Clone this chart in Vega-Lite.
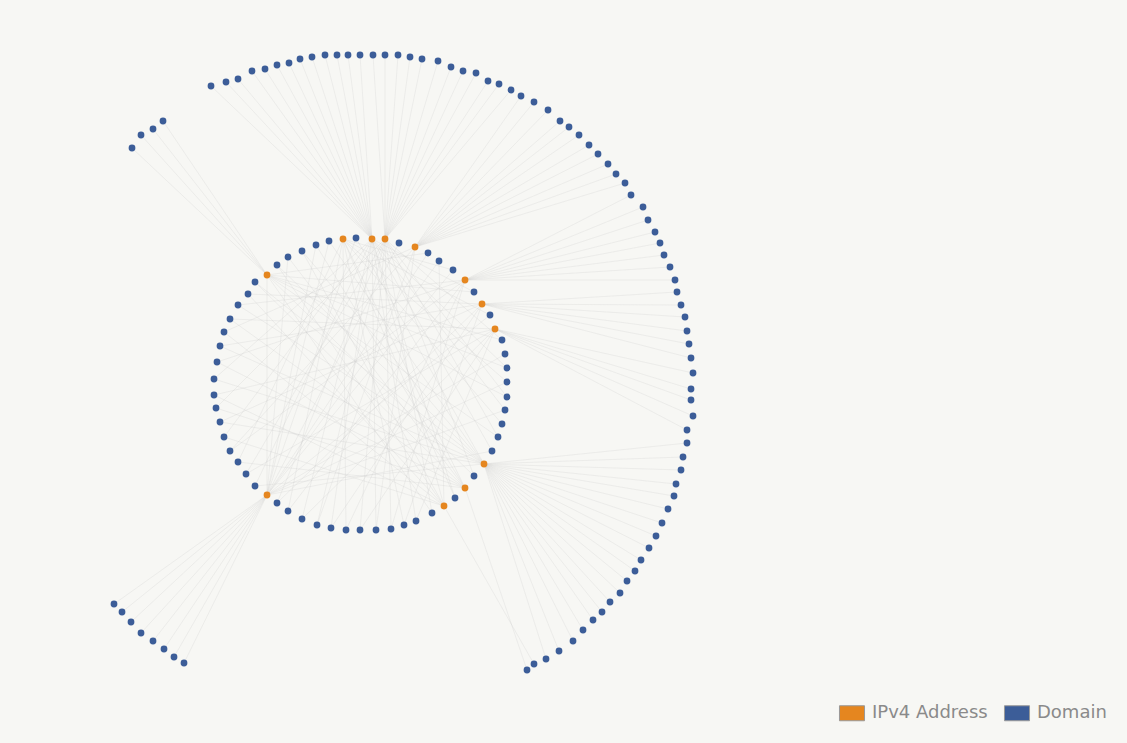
{
  "$schema": "https://vega.github.io/schema/vega-lite/v6.json",
  "autosize": {"type": "fit", "contains": "padding"},
  "width": 1127,
  "height": 743,
  "padding": 0,
  "background": "#f7f7f4",
  "config": {"view": {"stroke": null}},
  "datasets": {
    "nodes": [
      {"id": "i0", "x": -4, "y": 146, "type": "Domain"},
      {"id": "i1", "x": 12, "y": 145, "type": "IPv4 Address"},
      {"id": "i2", "x": 25, "y": 145, "type": "IPv4 Address"},
      {"id": "i3", "x": 39, "y": 141, "type": "Domain"},
      {"id": "i4", "x": 55, "y": 137, "type": "IPv4 Address"},
      {"id": "i5", "x": 68, "y": 131, "type": "Domain"},
      {"id": "i6", "x": 79, "y": 123, "type": "Domain"},
      {"id": "i7", "x": 93, "y": 114, "type": "Domain"},
      {"id": "i8", "x": 105, "y": 104, "type": "IPv4 Address"},
      {"id": "i9", "x": 114, "y": 92, "type": "Domain"},
      {"id": "i10", "x": 122, "y": 80, "type": "IPv4 Address"},
      {"id": "i11", "x": 130, "y": 69, "type": "Domain"},
      {"id": "i12", "x": 135, "y": 55, "type": "IPv4 Address"},
      {"id": "i13", "x": 142, "y": 44, "type": "Domain"},
      {"id": "i14", "x": 145, "y": 30, "type": "Domain"},
      {"id": "i15", "x": 147, "y": 16, "type": "Domain"},
      {"id": "i16", "x": 147, "y": 2, "type": "Domain"},
      {"id": "i17", "x": 147, "y": -13, "type": "Domain"},
      {"id": "i18", "x": 145, "y": -26, "type": "Domain"},
      {"id": "i19", "x": 142, "y": -40, "type": "Domain"},
      {"id": "i20", "x": 138, "y": -53, "type": "Domain"},
      {"id": "i21", "x": 132, "y": -67, "type": "Domain"},
      {"id": "i22", "x": 124, "y": -80, "type": "IPv4 Address"},
      {"id": "i23", "x": 114, "y": -92, "type": "Domain"},
      {"id": "i24", "x": 105, "y": -104, "type": "IPv4 Address"},
      {"id": "i25", "x": 95, "y": -114, "type": "Domain"},
      {"id": "i26", "x": 84, "y": -122, "type": "IPv4 Address"},
      {"id": "i27", "x": 72, "y": -129, "type": "Domain"},
      {"id": "i28", "x": 56, "y": -137, "type": "Domain"},
      {"id": "i29", "x": 44, "y": -141, "type": "Domain"},
      {"id": "i30", "x": 31, "y": -145, "type": "Domain"},
      {"id": "i31", "x": 16, "y": -146, "type": "Domain"},
      {"id": "i32", "x": 0, "y": -146, "type": "Domain"},
      {"id": "i33", "x": -14, "y": -146, "type": "Domain"},
      {"id": "i34", "x": -29, "y": -144, "type": "Domain"},
      {"id": "i35", "x": -43, "y": -141, "type": "Domain"},
      {"id": "i36", "x": -58, "y": -135, "type": "Domain"},
      {"id": "i37", "x": -72, "y": -127, "type": "Domain"},
      {"id": "i38", "x": -83, "y": -119, "type": "Domain"},
      {"id": "i39", "x": -93, "y": -111, "type": "IPv4 Address"},
      {"id": "i40", "x": -105, "y": -102, "type": "Domain"},
      {"id": "i41", "x": -114, "y": -90, "type": "Domain"},
      {"id": "i42", "x": -122, "y": -78, "type": "Domain"},
      {"id": "i43", "x": -130, "y": -67, "type": "Domain"},
      {"id": "i44", "x": -136, "y": -53, "type": "Domain"},
      {"id": "i45", "x": -140, "y": -38, "type": "Domain"},
      {"id": "i46", "x": -144, "y": -24, "type": "Domain"},
      {"id": "i47", "x": -146, "y": -11, "type": "Domain"},
      {"id": "i48", "x": -146, "y": 5, "type": "Domain"},
      {"id": "i49", "x": -143, "y": 22, "type": "Domain"},
      {"id": "i50", "x": -140, "y": 38, "type": "Domain"},
      {"id": "i51", "x": -136, "y": 52, "type": "Domain"},
      {"id": "i52", "x": -130, "y": 65, "type": "Domain"},
      {"id": "i53", "x": -122, "y": 79, "type": "Domain"},
      {"id": "i54", "x": -112, "y": 90, "type": "Domain"},
      {"id": "i55", "x": -105, "y": 102, "type": "Domain"},
      {"id": "i56", "x": -93, "y": 109, "type": "IPv4 Address"},
      {"id": "i57", "x": -83, "y": 119, "type": "Domain"},
      {"id": "i58", "x": -72, "y": 127, "type": "Domain"},
      {"id": "i59", "x": -58, "y": 133, "type": "Domain"},
      {"id": "i60", "x": -44, "y": 139, "type": "Domain"},
      {"id": "i61", "x": -31, "y": 143, "type": "Domain"},
      {"id": "i62", "x": -17, "y": 145, "type": "IPv4 Address"},
      {"id": "o0", "x": -228, "y": 236, "type": "Domain"},
      {"id": "o1", "x": -219, "y": 249, "type": "Domain"},
      {"id": "o2", "x": -207, "y": 255, "type": "Domain"},
      {"id": "o3", "x": -197, "y": 263, "type": "Domain"},
      {"id": "o4", "x": -149, "y": 298, "type": "Domain"},
      {"id": "o5", "x": -134, "y": 302, "type": "Domain"},
      {"id": "o6", "x": -122, "y": 305, "type": "Domain"},
      {"id": "o7", "x": -108, "y": 313, "type": "Domain"},
      {"id": "o8", "x": -95, "y": 315, "type": "Domain"},
      {"id": "o9", "x": -83, "y": 319, "type": "Domain"},
      {"id": "o10", "x": -71, "y": 321, "type": "Domain"},
      {"id": "o11", "x": -60, "y": 325, "type": "Domain"},
      {"id": "o12", "x": -48, "y": 327, "type": "Domain"},
      {"id": "o13", "x": -35, "y": 329, "type": "Domain"},
      {"id": "o14", "x": -23, "y": 329, "type": "Domain"},
      {"id": "o15", "x": -12, "y": 329, "type": "Domain"},
      {"id": "o16", "x": 0, "y": 329, "type": "Domain"},
      {"id": "o17", "x": 13, "y": 329, "type": "Domain"},
      {"id": "o18", "x": 25, "y": 329, "type": "Domain"},
      {"id": "o19", "x": 38, "y": 329, "type": "Domain"},
      {"id": "o20", "x": 50, "y": 327, "type": "Domain"},
      {"id": "o21", "x": 62, "y": 325, "type": "Domain"},
      {"id": "o22", "x": 78, "y": 323, "type": "Domain"},
      {"id": "o23", "x": 91, "y": 317, "type": "Domain"},
      {"id": "o24", "x": 103, "y": 313, "type": "Domain"},
      {"id": "o25", "x": 116, "y": 311, "type": "Domain"},
      {"id": "o26", "x": 128, "y": 303, "type": "Domain"},
      {"id": "o27", "x": 139, "y": 300, "type": "Domain"},
      {"id": "o28", "x": 151, "y": 294, "type": "Domain"},
      {"id": "o29", "x": 161, "y": 288, "type": "Domain"},
      {"id": "o30", "x": 174, "y": 282, "type": "Domain"},
      {"id": "o31", "x": 188, "y": 274, "type": "Domain"},
      {"id": "o32", "x": 200, "y": 263, "type": "Domain"},
      {"id": "o33", "x": 209, "y": 257, "type": "Domain"},
      {"id": "o34", "x": 219, "y": 249, "type": "Domain"},
      {"id": "o35", "x": 229, "y": 239, "type": "Domain"},
      {"id": "o36", "x": 238, "y": 230, "type": "Domain"},
      {"id": "o37", "x": 248, "y": 220, "type": "Domain"},
      {"id": "o38", "x": 256, "y": 210, "type": "Domain"},
      {"id": "o39", "x": 265, "y": 201, "type": "Domain"},
      {"id": "o40", "x": 271, "y": 189, "type": "Domain"},
      {"id": "o41", "x": 283, "y": 177, "type": "Domain"},
      {"id": "o42", "x": 288, "y": 164, "type": "Domain"},
      {"id": "o43", "x": 295, "y": 152, "type": "Domain"},
      {"id": "o44", "x": 300, "y": 141, "type": "Domain"},
      {"id": "o45", "x": 304, "y": 129, "type": "Domain"},
      {"id": "o46", "x": 310, "y": 117, "type": "Domain"},
      {"id": "o47", "x": 315, "y": 104, "type": "Domain"},
      {"id": "o48", "x": 317, "y": 92, "type": "Domain"},
      {"id": "o49", "x": 321, "y": 79, "type": "Domain"},
      {"id": "o50", "x": 325, "y": 67, "type": "Domain"},
      {"id": "o51", "x": 327, "y": 53, "type": "Domain"},
      {"id": "o52", "x": 329, "y": 40, "type": "Domain"},
      {"id": "o53", "x": 331, "y": 26, "type": "Domain"},
      {"id": "o54", "x": 333, "y": 11, "type": "Domain"},
      {"id": "o55", "x": 331, "y": -5, "type": "Domain"},
      {"id": "o56", "x": 331, "y": -16, "type": "Domain"},
      {"id": "o57", "x": 333, "y": -32, "type": "Domain"},
      {"id": "o58", "x": 327, "y": -46, "type": "Domain"},
      {"id": "o59", "x": 327, "y": -59, "type": "Domain"},
      {"id": "o60", "x": 323, "y": -73, "type": "Domain"},
      {"id": "o61", "x": 321, "y": -86, "type": "Domain"},
      {"id": "o62", "x": 316, "y": -100, "type": "Domain"},
      {"id": "o63", "x": 314, "y": -112, "type": "Domain"},
      {"id": "o64", "x": 308, "y": -125, "type": "Domain"},
      {"id": "o65", "x": 302, "y": -139, "type": "Domain"},
      {"id": "o66", "x": 296, "y": -152, "type": "Domain"},
      {"id": "o67", "x": 289, "y": -164, "type": "Domain"},
      {"id": "o68", "x": 281, "y": -176, "type": "Domain"},
      {"id": "o69", "x": 275, "y": -187, "type": "Domain"},
      {"id": "o70", "x": 267, "y": -197, "type": "Domain"},
      {"id": "o71", "x": 260, "y": -209, "type": "Domain"},
      {"id": "o72", "x": 250, "y": -218, "type": "Domain"},
      {"id": "o73", "x": 242, "y": -228, "type": "Domain"},
      {"id": "o74", "x": 233, "y": -236, "type": "Domain"},
      {"id": "o75", "x": 223, "y": -246, "type": "Domain"},
      {"id": "o76", "x": 213, "y": -257, "type": "Domain"},
      {"id": "o77", "x": 199, "y": -267, "type": "Domain"},
      {"id": "o78", "x": 186, "y": -275, "type": "Domain"},
      {"id": "o79", "x": 174, "y": -280, "type": "Domain"},
      {"id": "o80", "x": 167, "y": -286, "type": "Domain"},
      {"id": "o81", "x": -246, "y": -220, "type": "Domain"},
      {"id": "o82", "x": -238, "y": -228, "type": "Domain"},
      {"id": "o83", "x": -229, "y": -238, "type": "Domain"},
      {"id": "o84", "x": -219, "y": -249, "type": "Domain"},
      {"id": "o85", "x": -207, "y": -257, "type": "Domain"},
      {"id": "o86", "x": -196, "y": -265, "type": "Domain"},
      {"id": "o87", "x": -186, "y": -273, "type": "Domain"},
      {"id": "o88", "x": -176, "y": -279, "type": "Domain"}
    ],
    "edges": [
      {"s": "o0", "t": "i56"}, {"s": "o1", "t": "i56"}, {"s": "o2", "t": "i56"}, {"s": "o3", "t": "i56"},
      {"s": "o4", "t": "i1"}, {"s": "o5", "t": "i1"}, {"s": "o6", "t": "i1"}, {"s": "o7", "t": "i1"},
      {"s": "o8", "t": "i1"}, {"s": "o9", "t": "i1"}, {"s": "o10", "t": "i1"}, {"s": "o11", "t": "i1"},
      {"s": "o12", "t": "i1"}, {"s": "o13", "t": "i1"}, {"s": "o14", "t": "i1"}, {"s": "o15", "t": "i1"},
      {"s": "o16", "t": "i1"}, {"s": "o17", "t": "i2"}, {"s": "o18", "t": "i2"}, {"s": "o19", "t": "i2"},
      {"s": "o20", "t": "i2"}, {"s": "o21", "t": "i2"}, {"s": "o22", "t": "i2"}, {"s": "o23", "t": "i2"},
      {"s": "o24", "t": "i2"}, {"s": "o25", "t": "i2"}, {"s": "o26", "t": "i2"}, {"s": "o27", "t": "i2"},
      {"s": "o28", "t": "i2"}, {"s": "o29", "t": "i4"}, {"s": "o30", "t": "i4"}, {"s": "o31", "t": "i4"},
      {"s": "o32", "t": "i4"}, {"s": "o33", "t": "i4"}, {"s": "o34", "t": "i4"}, {"s": "o35", "t": "i4"},
      {"s": "o36", "t": "i4"}, {"s": "o37", "t": "i4"}, {"s": "o38", "t": "i4"}, {"s": "o39", "t": "i4"},
      {"s": "o40", "t": "i8"}, {"s": "o41", "t": "i8"}, {"s": "o42", "t": "i8"}, {"s": "o43", "t": "i8"},
      {"s": "o44", "t": "i8"}, {"s": "o45", "t": "i8"}, {"s": "o46", "t": "i8"}, {"s": "o47", "t": "i8"},
      {"s": "o48", "t": "i10"}, {"s": "o49", "t": "i10"}, {"s": "o50", "t": "i10"}, {"s": "o51", "t": "i10"},
      {"s": "o52", "t": "i10"}, {"s": "o53", "t": "i10"}, {"s": "o54", "t": "i12"}, {"s": "o55", "t": "i12"},
      {"s": "o56", "t": "i12"}, {"s": "o57", "t": "i12"}, {"s": "o58", "t": "i12"},
      {"s": "o59", "t": "i22"}, {"s": "o60", "t": "i22"}, {"s": "o61", "t": "i22"}, {"s": "o62", "t": "i22"},
      {"s": "o63", "t": "i22"}, {"s": "o64", "t": "i22"}, {"s": "o65", "t": "i22"}, {"s": "o66", "t": "i22"},
      {"s": "o67", "t": "i22"}, {"s": "o68", "t": "i22"}, {"s": "o69", "t": "i22"}, {"s": "o70", "t": "i22"},
      {"s": "o71", "t": "i22"}, {"s": "o72", "t": "i22"}, {"s": "o73", "t": "i22"}, {"s": "o74", "t": "i22"},
      {"s": "o75", "t": "i22"}, {"s": "o76", "t": "i22"}, {"s": "o77", "t": "i22"}, {"s": "o78", "t": "i22"},
      {"s": "o79", "t": "i26"}, {"s": "o80", "t": "i24"},
      {"s": "o81", "t": "i39"}, {"s": "o82", "t": "i39"}, {"s": "o83", "t": "i39"}, {"s": "o84", "t": "i39"},
      {"s": "o85", "t": "i39"}, {"s": "o86", "t": "i39"}, {"s": "o87", "t": "i39"}, {"s": "o88", "t": "i39"},
      {"s": "i0", "t": "i39"}, {"s": "i0", "t": "i22"}, {"s": "i3", "t": "i39"}, {"s": "i5", "t": "i56"},
      {"s": "i5", "t": "i39"}, {"s": "i6", "t": "i39"}, {"s": "i6", "t": "i26"}, {"s": "i7", "t": "i62"},
      {"s": "i7", "t": "i39"}, {"s": "i9", "t": "i56"}, {"s": "i9", "t": "i1"}, {"s": "i11", "t": "i39"},
      {"s": "i11", "t": "i62"}, {"s": "i13", "t": "i56"}, {"s": "i13", "t": "i2"}, {"s": "i14", "t": "i39"},
      {"s": "i15", "t": "i56"}, {"s": "i15", "t": "i1"}, {"s": "i16", "t": "i62"}, {"s": "i16", "t": "i39"},
      {"s": "i17", "t": "i2"}, {"s": "i17", "t": "i56"}, {"s": "i18", "t": "i1"}, {"s": "i18", "t": "i39"},
      {"s": "i19", "t": "i62"}, {"s": "i20", "t": "i2"}, {"s": "i20", "t": "i56"}, {"s": "i21", "t": "i1"},
      {"s": "i21", "t": "i39"}, {"s": "i23", "t": "i56"}, {"s": "i23", "t": "i2"}, {"s": "i25", "t": "i1"},
      {"s": "i25", "t": "i62"}, {"s": "i27", "t": "i2"}, {"s": "i27", "t": "i56"}, {"s": "i28", "t": "i1"},
      {"s": "i28", "t": "i12"}, {"s": "i29", "t": "i62"}, {"s": "i29", "t": "i10"}, {"s": "i30", "t": "i2"},
      {"s": "i30", "t": "i8"}, {"s": "i31", "t": "i1"}, {"s": "i31", "t": "i4"}, {"s": "i32", "t": "i2"},
      {"s": "i32", "t": "i12"}, {"s": "i33", "t": "i62"}, {"s": "i33", "t": "i8"}, {"s": "i34", "t": "i1"},
      {"s": "i34", "t": "i10"}, {"s": "i35", "t": "i4"}, {"s": "i35", "t": "i2"}, {"s": "i36", "t": "i12"},
      {"s": "i36", "t": "i1"}, {"s": "i37", "t": "i8"}, {"s": "i37", "t": "i62"}, {"s": "i38", "t": "i10"},
      {"s": "i38", "t": "i2"}, {"s": "i40", "t": "i1"}, {"s": "i40", "t": "i22"}, {"s": "i41", "t": "i2"},
      {"s": "i41", "t": "i12"}, {"s": "i42", "t": "i62"}, {"s": "i42", "t": "i24"}, {"s": "i43", "t": "i4"},
      {"s": "i43", "t": "i8"}, {"s": "i44", "t": "i1"}, {"s": "i44", "t": "i26"}, {"s": "i45", "t": "i22"},
      {"s": "i45", "t": "i10"}, {"s": "i46", "t": "i2"}, {"s": "i46", "t": "i24"}, {"s": "i47", "t": "i12"},
      {"s": "i47", "t": "i26"}, {"s": "i48", "t": "i22"}, {"s": "i48", "t": "i1"}, {"s": "i49", "t": "i8"},
      {"s": "i49", "t": "i24"}, {"s": "i50", "t": "i10"}, {"s": "i50", "t": "i22"}, {"s": "i51", "t": "i26"},
      {"s": "i51", "t": "i4"}, {"s": "i52", "t": "i24"}, {"s": "i52", "t": "i12"}, {"s": "i53", "t": "i22"},
      {"s": "i53", "t": "i8"}, {"s": "i54", "t": "i26"}, {"s": "i54", "t": "i10"}, {"s": "i55", "t": "i24"},
      {"s": "i55", "t": "i22"}, {"s": "i57", "t": "i22"}, {"s": "i57", "t": "i26"}, {"s": "i58", "t": "i24"},
      {"s": "i58", "t": "i39"}, {"s": "i59", "t": "i26"}, {"s": "i59", "t": "i22"}, {"s": "i60", "t": "i39"},
      {"s": "i60", "t": "i24"}, {"s": "i61", "t": "i22"}, {"s": "i61", "t": "i39"},
      {"s": "i56", "t": "i39"}, {"s": "i62", "t": "i24"}, {"s": "i1", "t": "i26"}
    ]
  },
  "layer": [
    {
      "data": {"name": "edges"},
      "transform": [
        {"lookup": "s", "from": {"data": {"name": "nodes"}, "key": "id", "fields": ["x", "y"]}, "as": ["sx", "sy"]},
        {"lookup": "t", "from": {"data": {"name": "nodes"}, "key": "id", "fields": ["x", "y"]}, "as": ["tx", "ty"]}
      ],
      "mark": {"type": "rule", "color": "#c8c8c8", "strokeWidth": 0.7, "opacity": 0.35},
      "encoding": {
        "x": {"field": "sx", "type": "quantitative", "scale": {"domain": [-360, 767], "nice": false, "zero": false}, "axis": null},
        "y": {"field": "sy", "type": "quantitative", "scale": {"domain": [-359, 384], "nice": false, "zero": false}, "axis": null},
        "x2": {"field": "tx"},
        "y2": {"field": "ty"}
      }
    },
    {
      "data": {"name": "nodes"},
      "mark": {"type": "point", "filled": true, "size": 46, "opacity": 1},
      "encoding": {
        "x": {"field": "x", "type": "quantitative"},
        "y": {"field": "y", "type": "quantitative"},
        "color": {
          "field": "type",
          "type": "nominal",
          "scale": {"domain": ["IPv4 Address", "Domain"], "range": ["#e5861f", "#3c5d98"]},
          "legend": {
            "title": null,
            "orient": "bottom-right",
            "direction": "horizontal",
            "offset": 20,
            "symbolType": "M-1.67,-1H1.67V1H-1.67Z",
            "symbolSize": 225,
            "symbolStrokeColor": "#999999",
            "symbolStrokeWidth": 1,
            "symbolOpacity": 1,
            "labelFont": "DejaVu Sans",
            "labelFontSize": 18,
            "labelColor": "#8a8a8a",
            "labelOffset": 11,
            "columnPadding": 14,
            "padding": 0
          }
        }
      }
    }
  ]
}
